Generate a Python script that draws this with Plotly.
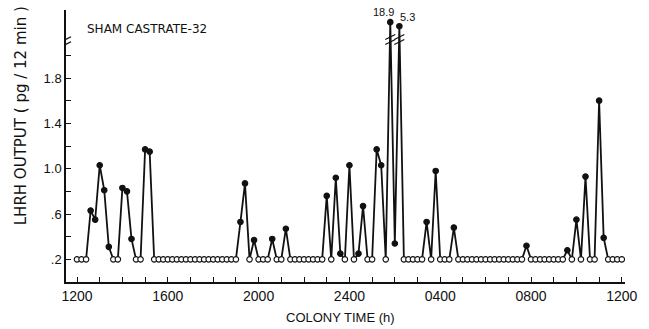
import math
import plotly.graph_objects as go

# ---------------- data ----------------
# sampling: every 12 min (0.2 h) starting at 1200 colony time, 24 h
sample_hours = [round(i * 0.2, 1) for i in range(121)]

# LHRH output (pg / 12 min); 0.2 = undetectable (open circles)
lhrh = [
    0.2, 0.2, 0.2, 0.63, 0.55, 1.03, 0.81, 0.31, 0.2, 0.2,          # 0-9
    0.83, 0.80, 0.38, 0.2, 0.2, 1.17, 1.15, 0.2, 0.2, 0.2,          # 10-19
    0.2, 0.2, 0.2, 0.2, 0.2, 0.2, 0.2, 0.2, 0.2, 0.2,               # 20-29
    0.2, 0.2, 0.2, 0.2, 0.2, 0.2, 0.53, 0.87, 0.2, 0.37,            # 30-39
    0.2, 0.2, 0.2, 0.38, 0.2, 0.2, 0.47, 0.2, 0.2, 0.2,             # 40-49
    0.2, 0.2, 0.2, 0.2, 0.2, 0.76, 0.2, 0.92, 0.25, 0.2,            # 50-59
    1.03, 0.2, 0.25, 0.67, 0.2, 0.2, 1.17, 1.03, 0.2, 18.9,         # 60-69
    0.34, 5.3, 0.2, 0.2, 0.2, 0.2, 0.2, 0.53, 0.2, 0.98,            # 70-79
    0.2, 0.2, 0.2, 0.48, 0.2, 0.2, 0.2, 0.2, 0.2, 0.2,              # 80-89
    0.2, 0.2, 0.2, 0.2, 0.2, 0.2, 0.2, 0.2, 0.2, 0.32,              # 90-99
    0.2, 0.2, 0.2, 0.2, 0.2, 0.2, 0.2, 0.2, 0.28, 0.2,              # 100-109
    0.55, 0.2, 0.93, 0.2, 0.2, 1.60, 0.39, 0.2, 0.2, 0.2,           # 110-119
    0.2,                                                            # 120
]
detection_limit = 0.2

x_tick_hours = list(range(0, 25))
x_tick_labels = ["1200", "1600", "2000", "2400", "0400", "0800", "1200"]
y_tick_values = [0.2, 0.4, 0.6, 0.8, 1.0, 1.2, 1.4, 1.6, 1.8, 2.0]
y_tick_labels = [".2", "", ".6", "", "1.0", "", "1.4", "", "1.8", ""]

title_text = "SHAM CASTRATE-32"
y_title = "LHRH OUTPUT ( pg / 12 min )"
x_title = "COLONY TIME (h)"

# ---------------- broken-axis transform ----------------
AXIS_BREAK = 2.05


def shown(v):
    if v <= AXIS_BREAK:
        return v
    return 2.21 + 0.065 * math.log10(v)


y_shown = [shown(v) for v in lhrh]
marker_fill = ["white" if v <= detection_limit else "#111111" for v in lhrh]

INK = "#111111"
FONT = "Liberation Sans, Arial, sans-serif"
WIDE = "DejaVu Sans, Verdana, sans-serif"

fig = go.Figure()
fig.add_trace(go.Scatter(
    x=sample_hours, y=y_shown, mode="lines+markers",
    line=dict(color=INK, width=1.8),
    marker=dict(size=5.5, color=marker_fill, line=dict(color=INK, width=1.1)),
    hoverinfo="skip", showlegend=False,
))

x_text = []
for h in x_tick_hours:
    x_text.append(x_tick_labels[h // 4] if h % 4 == 0 else "")

x_lo, x_hi = -0.485, 24.14
y_lo, y_hi = 0.0, 2.40

shapes = []
# break mark on y axis
for dy in (-2.5, 2.5):
    shapes.append(dict(type="line", xref="x", yref="y",
                       xsizemode="pixel", ysizemode="pixel",
                       xanchor=x_lo, yanchor=2.12,
                       x0=-5, x1=5, y0=dy - 2.5, y1=dy + 2.5,
                       line=dict(color=INK, width=1.3)))
# break marks on the two off-scale peaks
annotations = []
for i, v in enumerate(lhrh):
    if v > AXIS_BREAK:
        for dy in (-2.5, 2.5):
            shapes.append(dict(type="line", xref="x", yref="y",
                               xsizemode="pixel", ysizemode="pixel",
                               xanchor=sample_hours[i], yanchor=2.14,
                               x0=-5, x1=5, y0=dy - 2.5, y1=dy + 2.5,
                               line=dict(color=INK, width=1.3)))

peak_idx = [i for i, v in enumerate(lhrh) if v > AXIS_BREAK]
label_shift = [(-7, 10), (8, 9)]
for k, i in enumerate(peak_idx):
    annotations.append(dict(x=sample_hours[i], y=y_shown[i], xref="x", yref="y",
                            text=f"{lhrh[i]:g}", showarrow=False,
                            xshift=label_shift[k][0], yshift=label_shift[k][1],
                            font=dict(family=FONT, size=11, color=INK)))

annotations.append(dict(x=0.35, y=2.233, xref="x", yref="y", text=title_text,
                        showarrow=False, xanchor="left", yanchor="middle",
                        font=dict(family=WIDE, size=12, color=INK)))
annotations.append(dict(x=-0.079, y=1.47, xref="paper", yref="y", text=y_title,
                        showarrow=False, textangle=-90, xanchor="center", yanchor="middle",
                        font=dict(family=WIDE, size=15, color=INK)))
annotations.append(dict(x=11.6, y=-0.13, xref="x", yref="paper", text=x_title,
                        showarrow=False, xanchor="center", yanchor="middle",
                        font=dict(family=FONT, size=13, color=INK)))

fig.update_layout(
    width=649, height=329,
    margin=dict(l=66, r=24, t=10, b=47),
    paper_bgcolor="white", plot_bgcolor="white",
    font=dict(family=FONT, color=INK),
    shapes=shapes, annotations=annotations,
    xaxis=dict(range=[x_lo, x_hi], tickvals=x_tick_hours, ticktext=x_text,
               ticks="inside", ticklen=5, tickwidth=1.2, tickcolor=INK,
               showline=True, linecolor=INK, linewidth=1.5,
               showgrid=False, zeroline=False,
               tickfont=dict(family=FONT, size=14, color=INK)),
    yaxis=dict(range=[y_lo, y_hi], tickvals=y_tick_values, ticktext=y_tick_labels,
               ticks="inside", ticklen=5, tickwidth=1.2, tickcolor=INK,
               showline=True, linecolor=INK, linewidth=1.5,
               showgrid=False, zeroline=False,
               tickfont=dict(family=FONT, size=13, color=INK)),
)

fig.write_html("out.html", config={"displayModeBar": False},
               post_script="document.body.style.margin='0';")
